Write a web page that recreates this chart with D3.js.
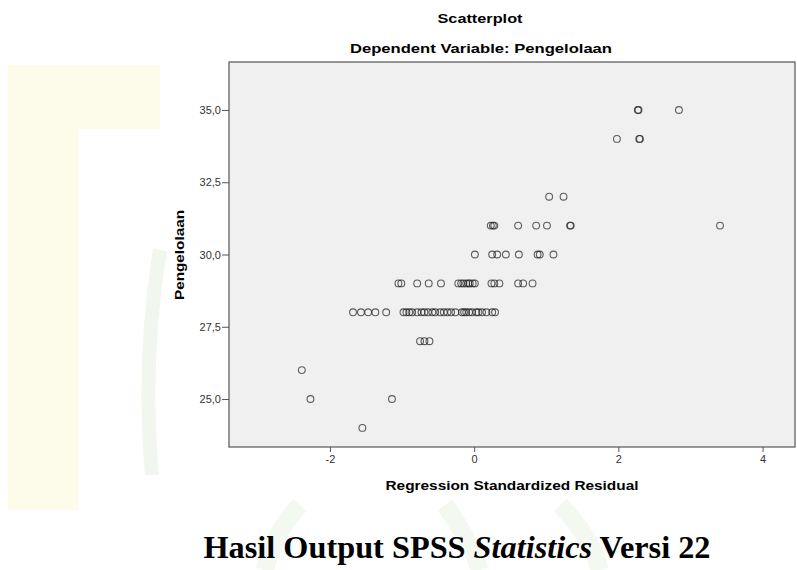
<!DOCTYPE html>
<html>
<head>
<meta charset="utf-8">
<script src="https://cdn.jsdelivr.net/npm/d3@7"></script>
<style>
  html, body { margin: 0; padding: 0; background: #fff; }
</style>
</head>
<body>
<svg id="scatter"></svg>
<script>
const levels = [35, 34, 32, 31, 30, 29, 28, 27, 26, 25, 24];
const residualsByLevel = [
  [2.27, 2.28, 2.84],
  [1.98, 2.29, 2.30],
  [1.04, 1.24],
  [0.23, 0.26, 0.28, 0.61, 0.86, 1.01, 1.33, 1.34, 3.41],
  [0.01, 0.25, 0.32, 0.44, 0.62, 0.88, 0.91, 1.10],
  [-1.05, -1.01, -0.79, -0.63, -0.46, -0.22, -0.18, -0.15, -0.11, -0.08, -0.06, -0.02, 0.01,
    0.24, 0.28, 0.35, 0.61, 0.68, 0.81],
  [-1.68, -1.57, -1.47, -1.37, -1.22, -0.98, -0.94, -0.90, -0.86, -0.79, -0.73, -0.69, -0.64,
    -0.58, -0.54, -0.47, -0.42, -0.37, -0.32, -0.26, -0.17, -0.14, -0.11, -0.07, -0.03, 0.03,
    0.06, 0.11, 0.17, 0.25, 0.29],
  [-0.75, -0.69, -0.62],
  [-2.39],
  [-2.27, -1.14],
  [-1.55]
];
const xTicks = [-2, 0, 2, 4];
const yTicks = [25, 27.5, 30, 32.5, 35];
const xDomain = [-3.40, 4.45];
const yDomain = [23.34, 36.66];

const title = "Scatterplot";
const subtitle = "Dependent Variable: Pengelolaan";
const xLabel = "Regression Standardized Residual";
const yLabel = "Pengelolaan";

const width = 797, height = 570;
const marginLeft = 229, marginRight = 2, marginTop = 62, marginBottom = 123;

const svg = d3.select("#scatter")
    .attr("width", width)
    .attr("height", height)
    .attr("viewBox", [0, 0, width, height])
    .attr("font-family", "Arial, 'Liberation Sans', sans-serif");

// faint watermark behind the chart
const wm = svg.append("g");
wm.append("rect").attr("x", 8).attr("y", 65).attr("width", 152).attr("height", 445).attr("fill", "#fdfbe9");
wm.append("rect").attr("x", 79).attr("y", 129).attr("width", 718).attr("height", 381).attr("fill", "#fff");
wm.append("path")
    .attr("d", "M160,250 Q142,360 152,475")
    .attr("fill", "none").attr("stroke", "#f1f7ee").attr("stroke-width", 14);
wm.append("path")
    .attr("d", "M265,570 Q275,530 300,505 M560,505 Q590,535 600,570 M445,505 Q470,540 480,570")
    .attr("fill", "none").attr("stroke", "#f3f8f0").attr("stroke-width", 18);

const xScale = d3.scaleLinear(xDomain, [marginLeft, width - marginRight]);
const yScale = d3.scaleLinear(yDomain, [height - marginBottom, marginTop]);

svg.append("rect")
    .attr("x", marginLeft)
    .attr("y", marginTop)
    .attr("width", width - marginRight - marginLeft)
    .attr("height", height - marginBottom - marginTop)
    .attr("fill", "#f0f0f0")
    .attr("stroke", "#555")
    .attr("stroke-width", 1.2);

const fmt = d => d3.format(".1f")(d).replace(".", ",");

svg.append("g")
    .attr("transform", `translate(0,${height - marginBottom})`)
    .call(d3.axisBottom(xScale).tickValues(xTicks).tickFormat(d => String(d)).tickSize(5).tickPadding(3))
    .call(g => g.select(".domain").remove())
    .call(g => g.selectAll(".tick line").attr("stroke", "#555"))
    .call(g => g.selectAll(".tick text").attr("font-size", 11).attr("fill", "#333")
        .attr("font-family", "Arial, 'Liberation Sans', sans-serif"));

svg.append("g")
    .attr("transform", `translate(${marginLeft},0)`)
    .call(d3.axisLeft(yScale).tickValues(yTicks).tickFormat(fmt).tickSize(7).tickPadding(1))
    .call(g => g.select(".domain").remove())
    .call(g => g.selectAll(".tick line").attr("stroke", "#555"))
    .call(g => g.selectAll(".tick text").attr("font-size", 11).attr("fill", "#333")
        .attr("font-family", "Arial, 'Liberation Sans', sans-serif"));

// flatten rows into points
const points = [];
levels.forEach((lv, i) => residualsByLevel[i].forEach(r => points.push([r, lv])));

svg.append("g")
  .selectAll("circle")
  .data(points)
  .join("circle")
    .attr("cx", d => xScale(d[0]))
    .attr("cy", d => yScale(d[1]))
    .attr("r", 3.4)
    .attr("fill", "none")
    .attr("stroke", "#222")
    .attr("stroke-opacity", 0.72)
    .attr("stroke-width", 1.1);

svg.append("text")
    .attr("x", 480).attr("y", 23)
    .attr("text-anchor", "middle")
    .attr("font-weight", "bold").attr("font-size", 13)
    .attr("textLength", 85).attr("lengthAdjust", "spacingAndGlyphs")
    .text(title);

svg.append("text")
    .attr("x", 481).attr("y", 53)
    .attr("text-anchor", "middle")
    .attr("font-weight", "bold").attr("font-size", 13)
    .attr("textLength", 262).attr("lengthAdjust", "spacingAndGlyphs")
    .text(subtitle);

svg.append("text")
    .attr("x", 512).attr("y", 490)
    .attr("text-anchor", "middle")
    .attr("font-weight", "bold").attr("font-size", 13)
    .attr("textLength", 253).attr("lengthAdjust", "spacingAndGlyphs")
    .text(xLabel);

svg.append("text")
    .attr("transform", "translate(184,255) rotate(-90)")
    .attr("text-anchor", "middle")
    .attr("font-weight", "bold").attr("font-size", 13.5)
    .attr("textLength", 90).attr("lengthAdjust", "spacingAndGlyphs")
    .text(yLabel);

const cap = svg.append("text")
    .attr("x", 457).attr("y", 558)
    .attr("text-anchor", "middle")
    .attr("font-family", "'Liberation Serif', 'Times New Roman', serif")
    .attr("font-weight", "bold").attr("font-size", 32)
    .attr("textLength", 507).attr("lengthAdjust", "spacingAndGlyphs")
    .attr("fill", "#000");
cap.append("tspan").text("Hasil Output SPSS ");
cap.append("tspan").attr("font-style", "italic").text("Statistics");
cap.append("tspan").text(" Versi 22");
</script>
</body>
</html>
